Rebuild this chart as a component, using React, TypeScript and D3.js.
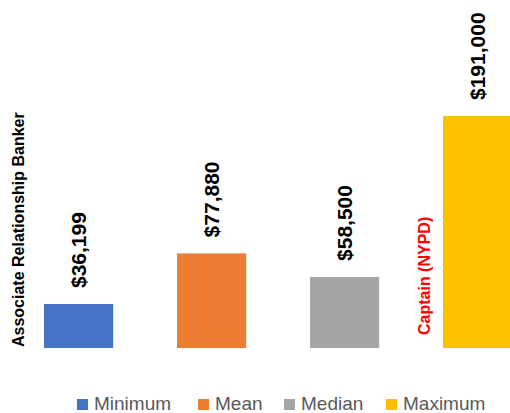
import React from "react";
import * as d3 from "d3";

const categories = ["Minimum", "Mean", "Median", "Maximum"];
const values = [36199, 77880, 58500, 191000];
const colors = ["#4472C4", "#ED7D31", "#A5A5A5", "#FFC000"];
const valueLabels = ["$36,199", "$77,880", "$58,500", "$191,000"];
const leftNote = "Associate Relationship Banker";
const rightNote = "Captain (NYPD)";

const W = 510;
const H = 413;

export default function App() {
  const x = d3
    .scaleBand<string>()
    .domain(categories)
    .range([12.1, 544.1])
    .paddingInner(0.48)
    .paddingOuter(0.24);
  const y = d3.scaleLinear().domain([0, 200000]).range([348, 105.07]);
  const bw = x.bandwidth();

  const legendSquareX = [77, 198, 284, 386];
  const font = "'Liberation Sans', Arial, sans-serif";

  return (
    <svg
      width={W}
      height={H}
      style={{ position: "absolute", left: 0, top: 0, background: "#fff" }}
      fontFamily={font}
    >
      <rect width={W} height={H} fill="#fff" />
      {categories.map((c, i) => (
        <rect
          key={c}
          x={x(c)}
          y={y(values[i])}
          width={bw}
          height={y(0) - y(values[i])}
          fill={colors[i]}
        />
      ))}
      {categories.map((c, i) => {
        const cx = (x(c) as number) + bw / 2 + 7.5;
        const ty = y(values[i]) - 16;
        return (
          <text
            key={"l" + c}
            transform={`translate(${cx},${ty}) rotate(-90)`}
            fontSize={21}
            fontWeight="bold"
            fill="#000"
          >
            {valueLabels[i]}
          </text>
        );
      })}
      <text
        transform={`translate(24,347) rotate(-90)`}
        fontSize={16}
        fontWeight="bold"
        fill="#000"
      >
        {leftNote}
      </text>
      <text
        transform={`translate(${(x("Maximum") as number) - 13},335) rotate(-90)`}
        fontSize={16}
        fontWeight="bold"
        fill="#FF0000"
      >
        {rightNote}
      </text>
      {categories.map((c, i) => (
        <g key={"lg" + c}>
          <rect x={legendSquareX[i]} y={399} width={11} height={11} fill={colors[i]} />
          <text x={legendSquareX[i] + 17} y={409.5} fontSize={19} fill="#595959">
            {c}
          </text>
        </g>
      ))}
    </svg>
  );
}
